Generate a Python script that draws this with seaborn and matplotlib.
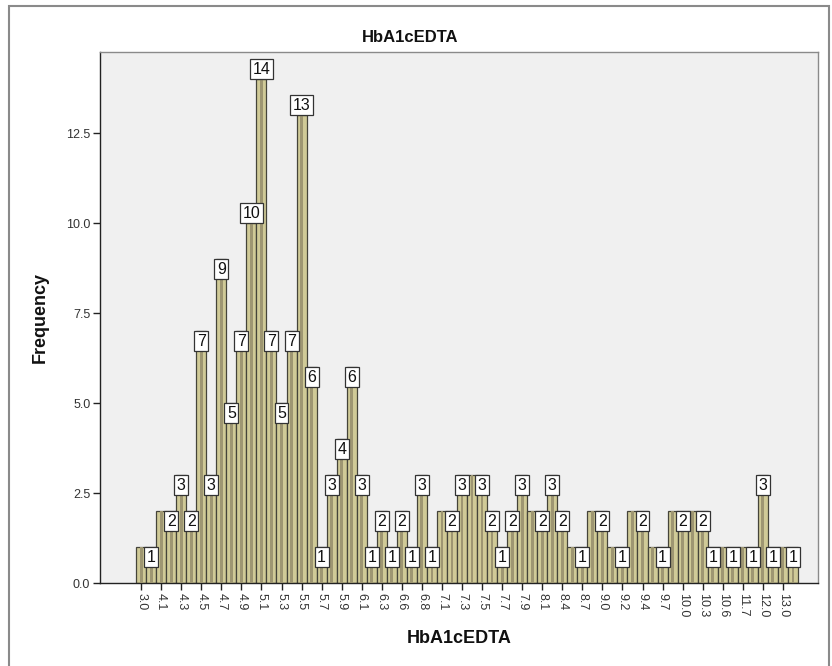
import matplotlib
matplotlib.use("Agg")
import matplotlib.pyplot as plt
import seaborn as sns
import pandas as pd
from matplotlib.patches import Rectangle

# HbA1c (EDTA) values, one bar per observed level
hba1c_levels = [
    "3.0", "4.0", "4.1", "4.2", "4.3", "4.4", "4.5", "4.6", "4.7", "4.8",
    "4.9", "5.0", "5.1", "5.2", "5.3", "5.4", "5.5", "5.6", "5.7", "5.8",
    "5.9", "6.0", "6.1", "6.2", "6.3", "6.5", "6.6", "6.7", "6.8", "7.0",
    "7.1", "7.2", "7.3", "7.4", "7.5", "7.6", "7.7", "7.8", "7.9", "8.0",
    "8.1", "8.3", "8.4", "8.5", "8.7", "8.9", "9.0", "9.1", "9.2", "9.3",
    "9.4", "9.6", "9.7", "9.9", "10.0", "10.2", "10.3", "10.5", "10.6", "11.2",
    "11.7", "11.9", "12.0", "12.5", "13.0", "13.5",
]

# Number of patients at each level
frequencies = [
    1, 1, 2, 2, 3, 2, 7, 3, 9, 5,
    7, 10, 14, 7, 5, 7, 13, 6, 1, 3,
    4, 6, 3, 1, 2, 1, 2, 1, 3, 1,
    2, 2, 3, 3, 3, 2, 1, 2, 3, 2,
    2, 3, 2, 1, 1, 2, 2, 1, 1, 2,
    2, 1, 1, 2, 2, 2, 2, 1, 1, 1,
    1, 1, 3, 1, 1, 1,
]

y_ticks = [0.0, 2.5, 5.0, 7.5, 10.0, 12.5]

df = pd.DataFrame({"HbA1cEDTA": hba1c_levels, "Frequency": frequencies})

sns.set_theme(style="white")
plt.rcParams["font.family"] = ["Liberation Sans", "DejaVu Sans"]

W, H = 832, 666
fig = plt.figure(figsize=(W / 100, H / 100), dpi=100)
fig.patch.set_facecolor("white")

# outer chart frame
fig.patches.append(Rectangle((9 / W, -0.1), (829 - 9) / W, 1 - 6 / H + 0.1,
                             transform=fig.transFigure, fill=False,
                             edgecolor="#8a8a8a", linewidth=1.5))

left, right, top, bottom = 100, 818, 52, 583
ax = fig.add_axes([left / W, 1 - bottom / H, (right - left) / W, (bottom - top) / H])
ax.set_facecolor("#F0F0F0")

bar_fill = "#D0CA97"
bar_edge = "#45443a"
stripe = "#9E9672"

sns.barplot(data=df, x="HbA1cEDTA", y="Frequency", order=hba1c_levels,
            color=bar_fill, saturation=1, width=1.0, edgecolor=bar_edge,
            linewidth=0.9, errorbar=None, ax=ax, zorder=2)
sns.barplot(data=df, x="HbA1cEDTA", y="Frequency", order=hba1c_levels,
            color=stripe, saturation=1, width=0.28, linewidth=0,
            errorbar=None, ax=ax, zorder=3)

# value labels; a label is dropped when it would collide with an equal
# neighbouring label on its right
n = len(frequencies)
show = [False] * n
last = None
for i in range(n - 1, -1, -1):
    if last is not None and last == i + 1 and frequencies[i] == frequencies[last]:
        continue
    show[i] = True
    last = i

box = dict(boxstyle="square,pad=0.16", facecolor="white", edgecolor="#333333", linewidth=0.9)
for i, v in enumerate(frequencies):
    if not show[i]:
        continue
    if v >= 10:
        va, dy = "bottom", 1.8
    else:
        va, dy = "top", -1.8
    ax.annotate(str(v), xy=(i, v), xytext=(0, dy), textcoords="offset points",
                ha="center", va=va, fontsize=11.5, color="#111111",
                bbox=box, zorder=5)

ax.set_xlim(-4.1, 67.5)
ax.set_ylim(0, 14.75)

ax.set_xticks(range(0, n, 2))
ax.set_xticklabels(hba1c_levels[::2], rotation=270, fontsize=9, color="#333333")
ax.set_yticks(y_ticks)
ax.set_yticklabels([f"{t:.1f}" for t in y_ticks], fontsize=9, color="#333333")
ax.tick_params(axis="both", which="major", direction="out", length=5, width=1,
               color="#222222", pad=2, bottom=True, left=True)

for side in ["left", "bottom"]:
    ax.spines[side].set_color("#222222")
    ax.spines[side].set_linewidth(1.0)
for side in ["top", "right"]:
    ax.spines[side].set_color("#8a8a8a")
    ax.spines[side].set_linewidth(1.0)

ax.set_xlabel("HbA1cEDTA", fontsize=13, fontweight="bold", color="#111111")
ax.set_ylabel("Frequency", fontsize=13, fontweight="bold", color="#111111")
ax.xaxis.set_label_coords(0.5, -0.088)
ax.yaxis.set_label_coords(-0.072, 0.5)

fig.text(0.493, 1 - 37 / H, "HbA1cEDTA", ha="center", va="center",
         fontsize=12, fontweight="bold", color="#111111")

fig.savefig("out.png", dpi=100, facecolor="white")
